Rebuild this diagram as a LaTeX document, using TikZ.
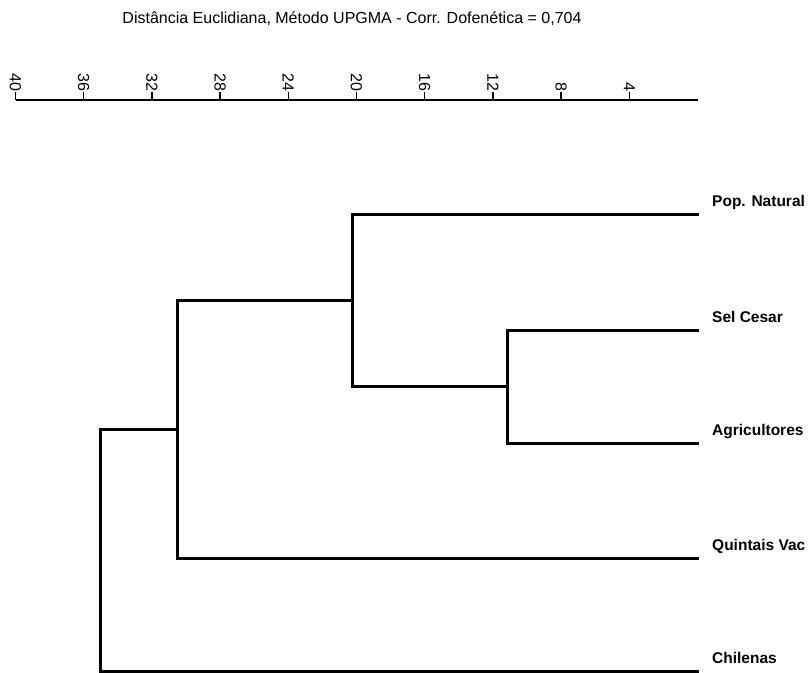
\documentclass[tikz,border=0pt]{standalone}
\usepackage{fontspec}
\setmainfont{Liberation Sans}
\begin{document}
\begin{tikzpicture}[x=1pt,y=-1pt,
  branch/.style={line width=3pt,line cap=rect,line join=miter},
  axisline/.style={line width=1.5pt},
  ticklabel/.style={rotate=-90,anchor=east,inner sep=0pt,font=\fontsize{16}{16}\selectfont},
  leaflabel/.style={anchor=base west,inner sep=0pt,font=\fontsize{15.5}{15.5}\selectfont\bfseries},
  titlelabel/.style={inner sep=0pt,font=\fontsize{16}{16}\selectfont}]
\useasboundingbox (0,0) rectangle (811,672);
\begin{scope}
\clip (0,0) rectangle (811,672);

% title
\node[titlelabel] (title) at (352,19) {Distância Euclidiana, Método UPGMA - Corr. Dofenética = 0,704};

% distance axis: 17.05 px per unit, 0 at x = 697.5
\coordinate (axL) at (15.5,100);
\coordinate (axR) at (697.5,100);
\draw[axisline] (axL) -- (axR);
\foreach \d in {40,36,...,4}{
  \coordinate (t\d) at ({697.5-17.05*\d},100);
  \draw[axisline] (t\d) -- ++(0,-8) node[ticklabel] (tl\d) {\d};
}

% leaf tips
\coordinate (pop) at (697.5,214);
\coordinate (sel) at (697.5,330);
\coordinate (agr) at (697.5,443);
\coordinate (qui) at (697.5,558);
\coordinate (chi) at (697.5,671.5);

% joins
\coordinate (n1) at (507.5,386.5);
\coordinate (n2) at (352,300.25);
\coordinate (n3) at (177,429.1);
\coordinate (n4) at (100.5,550);

\draw[branch] (sel) -| (n1) |- (agr);
\draw[branch] (pop) -| (n2) |- (n1);
\draw[branch] (n2) -| (n3) |- (qui);
\draw[branch] (n3) -| (n4) |- (chi);

% leaf names
\node[leaflabel] (lpop) at (712,206) {Pop. Natural};
\node[leaflabel] (lsel) at (712,322) {Sel Cesar};
\node[leaflabel] (lagr) at (712,435) {Agricultores};
\node[leaflabel] (lqui) at (712,550) {Quintais Vac};
\node[leaflabel] (lchi) at (712,663) {Chilenas};
\end{scope}
\end{tikzpicture}
\end{document}
